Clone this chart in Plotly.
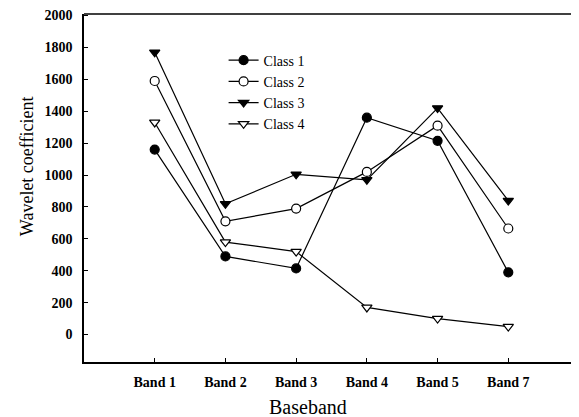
import plotly.graph_objects as go

bands = ["Band 1", "Band 2", "Band 3", "Band 4", "Band 5", "Band 7"]
class1 = [1160, 490, 415, 1360, 1215, 390]
class2 = [1590, 710, 790, 1020, 1310, 665]
class3 = [1770, 820, 1005, 970, 1420, 840]
class4 = [1330, 580, 520, 170, 100, 50]

series = [
    ("Class 1", class1, "circle", "black"),
    ("Class 2", class2, "circle", "white"),
    ("Class 3", class3, "triangle-down", "black"),
    ("Class 4", class4, "triangle-down", "white"),
]

fig = go.Figure()
for name, vals, sym, fill in series:
    fig.add_trace(go.Scatter(
        x=list(range(len(bands))), y=vals, name=name, mode="lines+markers",
        line=dict(color="black", width=1.2),
        marker=dict(symbol=sym, size=9, color=fill, line=dict(color="black", width=1.2)),
    ))

serif = "Liberation Serif, Times New Roman, serif"
fig.update_layout(
    width=571, height=409,
    margin=dict(l=76, r=0, t=6, b=55, autoexpand=False),
    paper_bgcolor="white", plot_bgcolor="white",
    font=dict(family=serif, color="black"),
    showlegend=True,
    legend=dict(x=0.282, y=0.912, xanchor="left", yanchor="top",
                font=dict(family=serif, size=14, color="black"),
                bgcolor="rgba(0,0,0,0)", tracegroupgap=0, itemwidth=30),
    xaxis=dict(
        range=[-1, 6], tickmode="array", tickvals=list(range(len(bands))), ticktext=bands,
        showline=True, linecolor="black", linewidth=1.5, mirror=False, automargin=False,
        ticks="inside", ticklen=4, tickcolor="black", showgrid=False, zeroline=False,
        ticklabelstandoff=6,
        tickfont=dict(family=serif, size=14, color="black", weight="bold"),
    ),
    yaxis=dict(
        range=[-172, 2010], tickmode="array", tickvals=list(range(0, 2001, 200)),
        showline=True, linecolor="black", linewidth=1.5, automargin=False,
        ticks="inside", ticklen=4, tickcolor="black", showgrid=False, zeroline=False,
        ticklabelstandoff=7,
        tickfont=dict(family=serif, size=14, color="black", weight="bold"),
    ),
    annotations=[
        dict(text="Wavelet coefficient", xref="paper", yref="paper", x=-0.115, y=0.563,
             xanchor="center", yanchor="middle", textangle=-90, showarrow=False,
             font=dict(family=serif, size=18, color="black")),
        dict(text="Baseband", xref="paper", yref="paper", x=0.453, y=-0.13,
             xanchor="center", yanchor="middle", showarrow=False,
             font=dict(family=serif, size=20, color="black")),
    ],
)
fig.add_shape(type="line", xref="paper", yref="paper", x0=0, x1=1, y0=1, y1=1,
              line=dict(color="black", width=1.5))
fig.write_html("out.html")
